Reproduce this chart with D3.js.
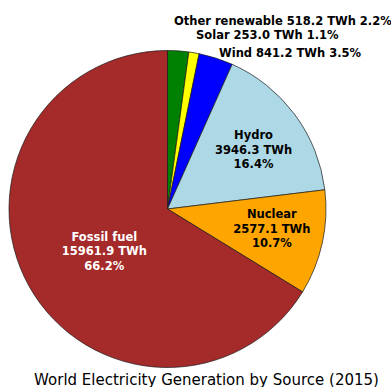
<!DOCTYPE html>
<html>
<head>
<meta charset="utf-8">
<script src="https://cdn.jsdelivr.net/npm/d3@7"></script>
<style>
  html, body { margin: 0; padding: 0; background: #fff; }
  svg { display: block; font-family: "DejaVu Sans", sans-serif; }
</style>
</head>
<body>
<svg id="chart" width="391" height="387"></svg>
<script>
// World electricity generation by source, 2015 (TWh)
const sources = ["Other renewable", "Solar", "Wind", "Hydro", "Nuclear", "Fossil fuel"];
const generation = [518.2, 253.0, 841.2, 3946.3, 2577.1, 15961.9];
const sharePct = [2.2, 1.1, 3.5, 16.4, 10.7, 66.2];
const colors = ["#008000", "#ffff00", "#0000ff", "#add8e6", "#ffa500", "#a52a2a"];
const textColors = ["#000", "#000", "#000", "#000", "#000", "#fff"];
const title = "World Electricity Generation by Source (2015)";

// label placement: small slices get a single line outside, big ones a stacked label inside
const insideLabel = [false, false, false, true, true, true];
const insideRadius = [0, 0, 0, 0.66, 0.67, 0.48];     // fraction of pie radius
const insideAngleShift = [0, 0, 0, 1.8, -1.7, -4.6];  // degrees
const outsideOffset = [[6.5, -188.3], [28.5, -174], [51.5, -156.3]];

const svg = d3.select("#chart");
const cx = 167.5, cy = 209, R = 158.5;

const data = sources.map((s, i) => ({ name: s, value: generation[i], pct: sharePct[i], i }));

const pie = d3.pie().value(d => d.value).sort(null).startAngle(0).endAngle(2 * Math.PI);
const arcs = pie(data);
const arc = d3.arc().innerRadius(0).outerRadius(R);

const g = svg.append("g").attr("transform", `translate(${cx},${cy})`);

g.selectAll("path.slice")
  .data(arcs)
  .join("path")
  .attr("class", "slice")
  .attr("d", arc)
  .attr("fill", d => colors[d.data.i])
  .attr("stroke", "#1a1a1a")
  .attr("stroke-width", 0.7)
  .attr("stroke-linejoin", "round");

const fmtVal = d => d3.format(".1f")(d.value) + " TWh";
const fmtPct = d => d3.format(".1f")(d.pct) + "%";

const fontSize = 11.5, lineH = 14.3;

arcs.forEach(a => {
  const d = a.data, i = d.i;
  if (insideLabel[i]) {
    const ang = (a.startAngle + a.endAngle) / 2 + insideAngleShift[i] * Math.PI / 180;
    const r = insideRadius[i] * R;
    const x = r * Math.sin(ang), y = -r * Math.cos(ang);
    const t = g.append("text")
      .attr("x", x).attr("y", y)
      .attr("text-anchor", "middle")
      .attr("font-size", fontSize)
      .attr("font-weight", "bold")
      .attr("fill", textColors[i]);
    [d.name, fmtVal(d), fmtPct(d)].forEach((line, k) => {
      t.append("tspan")
        .attr("x", x)
        .attr("y", y + (k - 1) * lineH)
        .attr("dy", "0.35em")
        .text(line);
    });
  } else {
    const [ox, oy] = outsideOffset[i];
    g.append("text")
      .attr("x", ox).attr("y", oy)
      .attr("dy", "0.35em")
      .attr("text-anchor", "start")
      .attr("font-size", fontSize)
      .attr("font-weight", "bold")
      .attr("fill", textColors[i])
      .text(`${d.name} ${fmtVal(d)} ${fmtPct(d)}`);
  }
});

svg.append("text")
  .attr("x", 206.5)
  .attr("y", 384.5)
  .attr("text-anchor", "middle")
  .attr("font-size", 15)
  .attr("fill", "#000")
  .text(title);
</script>
</body>
</html>
